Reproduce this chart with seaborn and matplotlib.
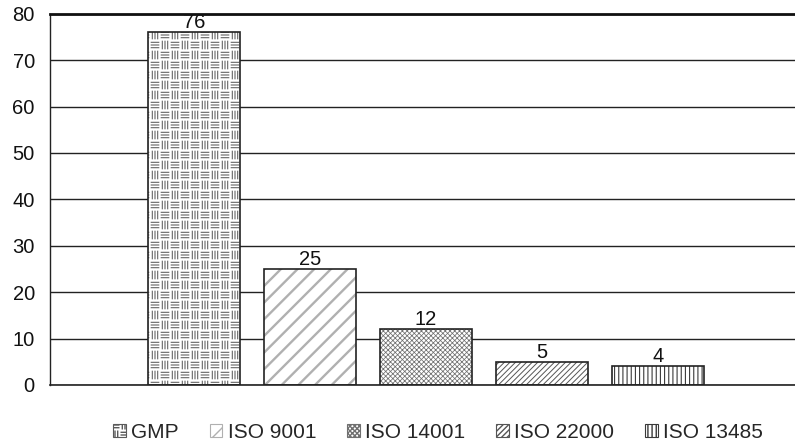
import matplotlib

matplotlib.use("Agg")
import matplotlib.hatch as mhatch
import matplotlib.pyplot as plt
import numpy as np
import pandas as pd
import seaborn as sns
from matplotlib.patches import Patch, Rectangle
from matplotlib.path import Path

# Data
standards = ["GMP", "ISO 9001", "ISO 14001", "ISO 22000", "ISO 13485"]
counts = [76, 25, 12, 5, 4]

# Black and white fill styles, one per bar ("*" is re-mapped to a basket weave)
hatches = ["*", "//", "xxxxxxx", "//////", "||||"]
hatch_colors = ["#5a5a5a", "#b0b0b0", "#707070", "#555555", "#3a3a3a"]
hatch_widths = [0.75, 1.7, 0.55, 0.7, 0.8]


class BasketWeave(mhatch.HatchPatternBase):
    """Small blocks of 3 horizontal / 3 vertical strokes, alternating."""

    periods = 5

    def __init__(self, hatch, density):
        self.on = "*" in hatch
        n = self.periods * 2
        self.num_vertices = (n * n * 3 * 2) if self.on else 0

    def set_vertices_and_codes(self, vertices, codes):
        n = self.periods * 2
        cell = 1.0 / n
        segs = []
        for r in range(n):
            yc = (r + 0.5) * cell
            for c in range(n):
                x0 = ((c + (r % 2)) % n) * cell
                xc = x0 + 0.5 * cell
                for d in (-0.27, 0.0, 0.27):
                    if c % 2 == 0:
                        y = yc + d * cell
                        segs.append(((x0 + 0.12 * cell, y), (x0 + 0.88 * cell, y)))
                    else:
                        x = xc + d * cell
                        segs.append(((x, yc - 0.38 * cell), (x, yc + 0.38 * cell)))
        pts = np.array(segs).reshape(-1, 2)
        vertices[:] = pts
        codes[0::2] = Path.MOVETO
        codes[1::2] = Path.LINETO


mhatch._hatch_types = [t for t in mhatch._hatch_types if t is not mhatch.Stars]
mhatch._hatch_types.append(BasketWeave)

df = pd.DataFrame({"standard": standards, "count": counts})

sns.set_theme(style="white")
plt.rcParams["font.family"] = ["Liberation Sans", "DejaVu Sans"]

fig = plt.figure(figsize=(7.95, 4.45), dpi=100)
ax = fig.add_axes([0.063, 0.135, 0.937, 0.834])

sns.barplot(
    data=df, x="standard", y="count", color="white",
    width=0.8, linewidth=0, ax=ax,
)

for p, h, c, w in zip(ax.patches, hatches, hatch_colors, hatch_widths):
    p.set_facecolor("white")
    p.set_edgecolor(c)
    p.set_hatch(h)
    if hasattr(p, "set_hatch_linewidth"):
        p.set_hatch_linewidth(w)
    # dark outline on top of the hatch
    ax.add_patch(Rectangle(p.get_xy(), p.get_width(), p.get_height(),
                           fill=False, edgecolor="#222222", linewidth=1.2,
                           zorder=3))

ax.bar_label(ax.containers[0], labels=[str(v) for v in counts],
             padding=0, fontsize=14.5, color="#111111")

ax.set_ylim(0, 80)
ax.set_xlim(-1.24, 5.18)
ax.set_yticks(range(0, 81, 10))
ax.tick_params(axis="y", labelsize=14.5, colors="#111111", length=0, pad=11)
ax.set_xticks([])
ax.set_xlabel("")
ax.set_ylabel("")

ax.yaxis.grid(True, color="#222222", linewidth=1.0)
ax.set_axisbelow(True)
ax.spines["right"].set_visible(False)
ax.spines["top"].set_color("#111111")
ax.spines["top"].set_linewidth(2.0)
ax.spines["left"].set_color("#222222")
ax.spines["left"].set_linewidth(1.0)
ax.spines["bottom"].set_color("#222222")
ax.spines["bottom"].set_linewidth(1.2)

handles = []
for h, c, w in zip(hatches, hatch_colors, hatch_widths):
    hp = Patch(facecolor="white", edgecolor=c, hatch=h, linewidth=0.8)
    if hasattr(hp, "set_hatch_linewidth"):
        hp.set_hatch_linewidth(min(w, 1.0))
    handles.append(hp)
fig.legend(handles, standards, loc="center", bbox_to_anchor=(0.551, 0.029),
           ncol=5, frameon=False, fontsize=15, handlelength=0.6,
           handleheight=0.6, handletextpad=0.25, columnspacing=1.5,
           borderpad=0.1)

fig.savefig("out.png", dpi=100, facecolor="white")
